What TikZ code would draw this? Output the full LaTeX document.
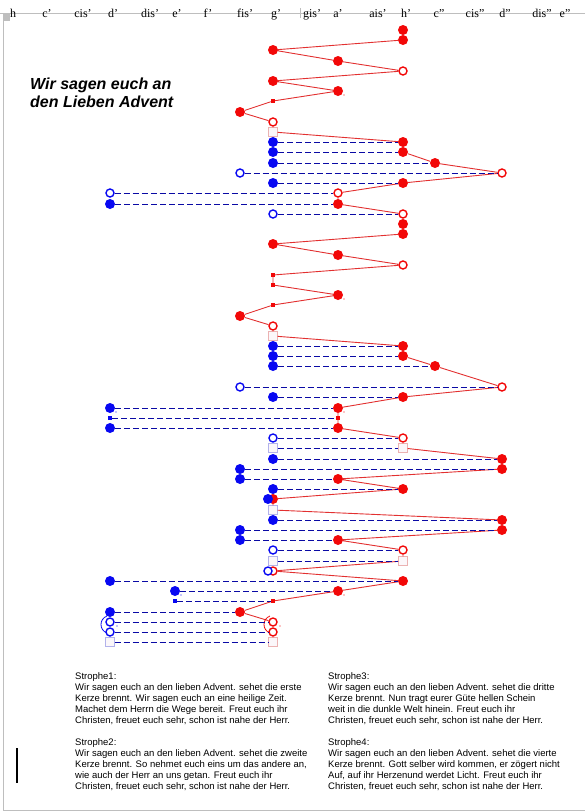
\documentclass[tikz,border=0pt]{standalone}
\usepackage{fontspec}
\setmainfont{Liberation Serif}
\newfontfamily\arial{Liberation Sans}
\usepackage{tikz}

\definecolor{notered}{RGB}{242,8,8}
\definecolor{linered}{RGB}{226,48,48}
\definecolor{noteblue}{RGB}{8,8,242}
\definecolor{dashblue}{RGB}{10,10,165}
\definecolor{restred}{RGB}{235,178,178}
\definecolor{restblue}{RGB}{178,178,235}
\definecolor{restfill}{RGB}{251,247,250}
\definecolor{framegray}{RGB}{190,190,190}

\tikzset{
  rf/.style={circle, fill=notered, inner sep=0pt, minimum size=10pt},
  ro/.style={circle, draw=notered, line width=1.4pt, fill=white, inner sep=0pt, minimum size=8pt},
  rs/.style={rectangle, fill=notered, inner sep=0pt, minimum size=4pt},
  rq/.style={rectangle, draw=restred, fill=restfill, inner sep=0pt, minimum size=9pt},
  bf/.style={circle, fill=noteblue, inner sep=0pt, minimum size=10pt},
  bo/.style={circle, draw=noteblue, line width=1.4pt, fill=white, inner sep=0pt, minimum size=8pt},
  bs/.style={rectangle, fill=noteblue, inner sep=0pt, minimum size=4pt},
  bq/.style={rectangle, draw=restblue, fill=restfill, inner sep=0pt, minimum size=9pt},
  redline/.style={linered, line width=0.9pt},
  blueline/.style={dashblue, line width=0.9pt, dash pattern=on 6pt off 3pt},
  tonname/.style={anchor=base, font=\fontsize{12}{14}\selectfont, inner sep=0pt},
  strophe/.style={anchor=north west, align=left, inner sep=0pt, font=\arial\fontsize{9.5}{11.2}\selectfont}
}

\begin{document}
\begin{tikzpicture}[x=1pt, y=-1pt]
  \useasboundingbox (0,0) rectangle (585,812);

  % Cadre de la page
  \draw[framegray, line width=0.8pt] (0,13) -- (585,13);
  \draw[framegray, line width=0.8pt] (300,8) -- (300,18);
  \fill[framegray] (3,14) rectangle (10,21);
  \draw[framegray, line width=0.8pt] (3,21) -- (3,810) -- (585,810);
  \draw[black, line width=2pt] (17,748) -- (17,783);

  % Noms des notes
  \node[tonname] (kh)   at (13,17)  {h};
  \node[tonname] (kc)   at (47,17)  {c'};
  \node[tonname] (kcis) at (83,17)  {cis'};
  \node[tonname] (kd)   at (113,17) {d'};
  \node[tonname] (kdis) at (150,17) {dis'};
  \node[tonname] (ke)   at (177,17) {e'};
  \node[tonname] (kf)   at (208,17) {f'};
  \node[tonname] (kfis) at (245,17) {fis'};
  \node[tonname] (kg)   at (276,17) {g'};
  \node[tonname] (kgis) at (312,17) {gis'};
  \node[tonname] (ka)   at (338,17) {a'};
  \node[tonname] (kais) at (378,17) {ais'};
  \node[tonname] (kh1)  at (406,17) {h'};
  \node[tonname] (kcc)  at (439,17) {c''};
  \node[tonname] (kccis) at (475,17) {cis''};
  \node[tonname] (kdd)  at (505,17) {d''};
  \node[tonname] (kddis) at (542,17) {dis''};
  \node[tonname] (kee)  at (565,17) {e''};

  % Titre
  \node[anchor=base west, align=left, inner sep=0pt,
        font=\arial\bfseries\itshape\fontsize{16}{17.5}\selectfont] (titel) at (30,107)
        {Wir sagen euch an\\den Lieben Advent};

  % Melodie (rouge)
  \node[rf] (r1)  at (403,30)  {};
  \node[rf] (r2)  at (403,40)  {};
  \node[rf] (r3)  at (273,50)  {};
  \node[rf] (r4)  at (338,61)  {};
  \node[ro] (r5)  at (403,71)  {};
  \node[rf] (r6)  at (273,81)  {};
  \node[rf] (r7)  at (338,91)  {};
  \node[rs] (r8)  at (273,101) {};
  \node[rf] (r9)  at (240,112) {};
  \node[ro] (r10) at (273,122) {};
  \node[rq] (r11) at (273,132) {};
  \node[rf] (r12) at (403,142) {};
  \node[rf] (r13) at (403,152) {};
  \node[rf] (r14) at (435,163) {};
  \node[ro] (r15) at (502,173) {};
  \node[rf] (r16) at (403,183) {};
  \node[ro] (r17) at (338,193) {};
  \node[rf] (r18) at (338,204) {};
  \node[ro] (r19) at (403,214) {};
  \node[rf] (r20) at (403,224) {};
  \node[rf] (r21) at (403,234) {};
  \node[rf] (r22) at (273,244) {};
  \node[rf] (r23) at (338,255) {};
  \node[ro] (r24) at (403,265) {};
  \node[rs] (r25) at (273,275) {};
  \node[rs] (r26) at (273,285) {};
  \node[rf] (r27) at (338,295) {};
  \node[rs] (r28) at (273,305) {};
  \node[rf] (r29) at (240,316) {};
  \node[ro] (r30) at (273,326) {};
  \node[rq] (r31) at (273,336) {};
  \node[rf] (r32) at (403,346) {};
  \node[rf] (r33) at (403,356) {};
  \node[rf] (r34) at (435,366) {};
  \node[ro] (r35) at (502,387) {};
  \node[rf] (r36) at (403,397) {};
  \node[rf] (r37) at (338,408) {};
  \node[rs] (r38) at (338,418) {};
  \node[rf] (r39) at (338,428) {};
  \node[ro] (r40) at (403,438) {};
  \node[rq] (r41) at (403,448) {};
  \node[rf] (r42) at (502,459) {};
  \node[rf] (r43) at (502,469) {};
  \node[rf] (r44) at (338,479) {};
  \node[rf] (r45) at (403,489) {};
  \node[rf] (r46) at (273,499) {};
  \node[bq] (r47) at (273,510) {};
  \node[rf] (r48) at (502,520) {};
  \node[rf] (r49) at (502,530) {};
  \node[rf] (r50) at (338,540) {};
  \node[ro] (r51) at (403,550) {};
  \node[rq] (r52) at (403,561) {};
  \node[ro] (r53) at (273,571) {};
  \node[rf] (r54) at (403,581) {};
  \node[rf] (r55) at (338,591) {};
  \node[rs] (r56) at (273,601) {};
  \node[rf] (r57) at (240,612) {};
  \node[ro] (r58) at (273,622) {};
  \node[ro] (r59) at (273,632) {};
  \node[rq] (r60) at (273,642) {};

  \draw[redline] (r1) -- (r2) -- (r3) -- (r4) -- (r5) -- (r6) -- (r7) -- (r8) -- (r9) -- (r10)
    -- (r11) -- (r12) -- (r13) -- (r14) -- (r15) -- (r16) -- (r17) -- (r18) -- (r19) -- (r20)
    -- (r21) -- (r22) -- (r23) -- (r24) -- (r25) -- (r26) -- (r27) -- (r28) -- (r29) -- (r30)
    -- (r31) -- (r32) -- (r33) -- (r34) -- (r35) -- (r36) -- (r37) -- (r38) -- (r39) -- (r40)
    -- (r41) -- (r42) -- (r43) -- (r44) -- (r45) -- (r46) -- (r47) -- (r48) -- (r49) -- (r50)
    -- (r51) -- (r52) -- (r53) -- (r54) -- (r55) -- (r56) -- (r57) -- (r58) -- (r59) -- (r60);

  % points et liaisons (rouge)
  \fill[notered] (344,95) circle (0.7pt);
  \fill[notered] (344,299) circle (0.7pt);
  \fill[notered] (344,412) circle (0.7pt);
  \fill[notered] (344,595) circle (0.7pt);
  \fill[notered] (280,626) circle (0.7pt);
  \draw[notered, line width=0.8pt] (270,616) .. controls (262,619) and (262,630) .. (270,633);

  % Seconde voix (bleu)
  \node[bf] (b1)  at (273,142) {};
  \node[bf] (b2)  at (273,152) {};
  \node[bf] (b3)  at (273,163) {};
  \node[bo] (b4)  at (240,173) {};
  \node[bf] (b5)  at (273,183) {};
  \node[bo] (b6)  at (110,193) {};
  \node[bf] (b7)  at (110,204) {};
  \node[bo] (b8)  at (273,214) {};
  \node[bf] (b9)  at (273,346) {};
  \node[bf] (b10) at (273,356) {};
  \node[bf] (b11) at (273,366) {};
  \node[bo] (b12) at (240,387) {};
  \node[bf] (b13) at (273,397) {};
  \node[bf] (b14) at (110,408) {};
  \node[bs] (b15) at (110,418) {};
  \node[bf] (b16) at (110,428) {};
  \node[bo] (b17) at (273,438) {};
  \node[bq] (b18) at (273,448) {};
  \node[bf] (b19) at (273,459) {};
  \node[bf] (b20) at (240,469) {};
  \node[bf] (b21) at (240,479) {};
  \node[bf] (b22) at (273,489) {};
  \node[bf] (b23) at (268,499) {};
  \node[bf] (b24) at (273,520) {};
  \node[bf] (b25) at (240,530) {};
  \node[bf] (b26) at (240,540) {};
  \node[bo] (b27) at (273,550) {};
  \node[bq] (b28) at (273,561) {};
  \node[bo] (b29) at (268,571) {};
  \node[bf] (b30) at (110,581) {};
  \node[bf] (b31) at (175,591) {};
  \node[bs] (b32) at (175,601) {};
  \node[bf] (b33) at (110,612) {};
  \node[bo] (b34) at (110,622) {};
  \node[bo] (b35) at (110,632) {};
  \node[bq] (b36) at (110,642) {};

  \draw[blueline] (b1) -- (r12);
  \draw[blueline] (b2) -- (r13);
  \draw[blueline] (b3) -- (r14);
  \draw[blueline] (b4) -- (r15);
  \draw[blueline] (b5) -- (r16);
  \draw[blueline] (b6) -- (r17);
  \draw[blueline] (b7) -- (r18);
  \draw[blueline] (b8) -- (r19);
  \draw[blueline] (b9) -- (r32);
  \draw[blueline] (b10) -- (r33);
  \draw[blueline] (b11) -- (r34);
  \draw[blueline] (b12) -- (r35);
  \draw[blueline] (b13) -- (r36);
  \draw[blueline] (b14) -- (r37);
  \draw[blueline] (b15) -- (r38);
  \draw[blueline] (b16) -- (r39);
  \draw[blueline] (b17) -- (r40);
  \draw[blueline] (b18) -- (r41);
  \draw[blueline] (b19) -- (r42);
  \draw[blueline] (b20) -- (r43);
  \draw[blueline] (b21) -- (r44);
  \draw[blueline] (b22) -- (r45);
  \draw[blueline] (b24) -- (r48);
  \draw[blueline] (b25) -- (r49);
  \draw[blueline] (b26) -- (r50);
  \draw[blueline] (b27) -- (r51);
  \draw[blueline] (b28) -- (r52);
  \draw[blueline] (b30) -- (r54);
  \draw[blueline] (b31) -- (r55);
  \draw[blueline] (b32) -- (r56);
  \draw[blueline] (b33) -- (r57);
  \draw[blueline] (b34) -- (r58);
  \draw[blueline] (b35) -- (r59);
  \draw[blueline] (b36) -- (r60);

  % points et liaisons (bleu)
  \fill[noteblue] (116,412) circle (0.7pt);
  \fill[noteblue] (181,595) circle (0.7pt);
  \fill[noteblue] (117,626) circle (0.7pt);
  \draw[noteblue, line width=0.8pt] (107,616) .. controls (99,619) and (99,630) .. (107,633);

  % Texte des strophes
  \node[strophe] (s1) at (75,672) {Strophe1:\\Wir sagen euch an den lieben Advent. sehet die erste\\Kerze brennt. Wir sagen euch an eine heilige Zeit.\\Machet dem Herrn die Wege bereit. Freut euch ihr\\Christen, freuet euch sehr, schon ist nahe der Herr.};
  \node[strophe] (s2) at (75,738) {Strophe2:\\Wir sagen euch an den lieben Advent. sehet die zweite\\Kerze brennt. So nehmet euch eins um das andere an,\\wie auch der Herr an uns getan. Freut euch ihr\\Christen, freuet euch sehr, schon ist nahe der Herr.};
  \node[strophe] (s3) at (328,672) {Strophe3:\\Wir sagen euch an den lieben Advent. sehet die dritte\\Kerze brennt. Nun tragt eurer Güte hellen Schein\\weit in die dunkle Welt hinein. Freut euch ihr\\Christen, freuet euch sehr, schon ist nahe der Herr.};
  \node[strophe] (s4) at (328,738) {Strophe4:\\Wir sagen euch an den lieben Advent. sehet die vierte\\Kerze brennt. Gott selber wird kommen, er zögert nicht\\Auf, auf ihr Herzenund werdet Licht. Freut euch ihr\\Christen, freuet euch sehr, schon ist nahe der Herr.};
\end{tikzpicture}
\end{document}
